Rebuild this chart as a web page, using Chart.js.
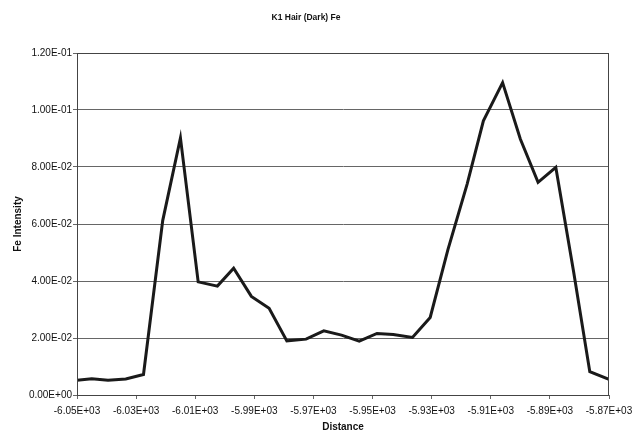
<!DOCTYPE html>
<html>
<head>
<meta charset="utf-8">
<script src="https://cdn.jsdelivr.net/npm/chart.js@4/dist/chart.umd.min.js"></script>
<style>
  body { margin: 0; background: #fff; }
  #wrap { width: 632px; height: 433px; }
</style>
</head>
<body>
<div id="wrap"><canvas id="feChart" width="632" height="433"></canvas></div>
<script>
const chartTitle = 'K1 Hair (Dark) Fe';
const xTitle = 'Distance';
const yTitle = 'Fe Intensity';

// distance readings along the hair
const distance = [-6050, -6045, -6039.5, -6033.5, -6027.5, -6021, -6015, -6009, -6002.5, -5997,
  -5991, -5985, -5979, -5972.5, -5966.5, -5960.5, -5954.5, -5948.5, -5943, -5936.5,
  -5930.5, -5924.5, -5918, -5912.5, -5906, -5900, -5894, -5888, -5882, -5876.5, -5870];

// Fe intensity at each distance
const feIntensity = [0.0052, 0.0057, 0.0052, 0.0056, 0.0072, 0.0612, 0.0902, 0.0397, 0.0382, 0.0445,
  0.0346, 0.0304, 0.0190, 0.0196, 0.0225, 0.0210, 0.0189, 0.0216, 0.0212, 0.0202,
  0.0272, 0.0510, 0.0740, 0.0962, 0.1096, 0.0898, 0.0746, 0.0799, 0.0434, 0.0082, 0.0055];

const xRange = [-6050, -5870];
const xStep = 20;
const yRange = [0, 0.12];
const yStep = 0.02;

// Excel style scientific labels: 1.20E-01
const fmtSci = (v) => {
  const [m, e] = Number(v).toExponential(2).split('e');
  return m + 'E' + e[0] + e.slice(1).padStart(2, '0');
};

const FONT = '"Liberation Sans", Arial, sans-serif';

// plot frame + chart title
const framePlugin = {
  id: 'frame',
  afterDraw(chart) {
    const { ctx, chartArea: a } = chart;
    ctx.save();
    ctx.strokeStyle = '#444';
    ctx.lineWidth = 1;
    ctx.strokeRect(Math.round(a.left) + 0.5, Math.round(a.top) + 0.5,
      Math.round(a.right - a.left) - 1, Math.round(a.bottom - a.top));
    ctx.fillStyle = '#111';
    ctx.font = 'bold 8.5px ' + FONT;
    ctx.textAlign = 'center';
    ctx.textBaseline = 'middle';
    ctx.fillText(chartTitle, 306, 18);
    ctx.restore();
  }
};

new Chart(document.getElementById('feChart'), {
  type: 'line',
  data: {
    datasets: [{
      label: yTitle,
      data: distance.map((d, i) => ({ x: d, y: feIntensity[i] })),
      borderColor: '#1a1a1a',
      borderWidth: 3,
      pointRadius: 0,
      tension: 0,
      fill: false
    }]
  },
  options: {
    responsive: false,
    animation: false,
    layout: { padding: { top: 53, right: 23, bottom: 0, left: 0 } },
    plugins: { legend: { display: false }, tooltip: { enabled: false } },
    scales: {
      x: {
        type: 'linear',
        min: xRange[0],
        max: xRange[1],
        // fixed height, and let the last label run off the edge like the original
        afterFit: (s) => { s.height = 38; s.paddingRight = 0; s.paddingLeft = 0; },
        grid: { drawOnChartArea: false, drawTicks: true, tickLength: 4, color: '#666' },
        border: { color: '#666' },
        ticks: {
          stepSize: xStep,
          autoSkip: false,
          maxRotation: 0,
          padding: 6,
          color: '#111',
          font: { family: FONT, size: 10 },
          callback: (v) => fmtSci(v)
        },
        title: {
          display: true,
          text: xTitle,
          color: '#111',
          padding: { top: 0, bottom: 0 },
          font: { family: FONT, size: 10, weight: 'bold' }
        }
      },
      y: {
        min: yRange[0],
        max: yRange[1],
        afterFit: (s) => { s.width = 77; },
        grid: { color: '#666', tickLength: 4 },
        border: { color: '#444' },
        ticks: {
          stepSize: yStep,
          padding: 1,
          color: '#111',
          font: { family: FONT, size: 10 },
          callback: (v) => fmtSci(v)
        },
        title: {
          display: true,
          text: yTitle,
          color: '#111',
          padding: { top: 12, bottom: 0 },
          font: { family: FONT, size: 10, weight: 'bold' }
        }
      }
    }
  },
  plugins: [framePlugin]
});
</script>
</body>
</html>
